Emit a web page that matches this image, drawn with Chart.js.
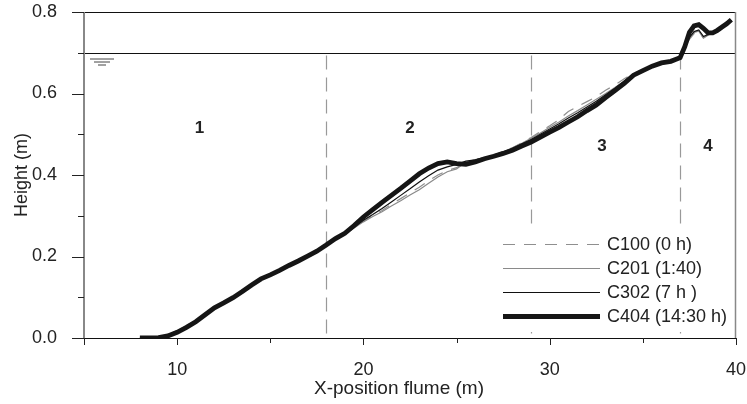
<!DOCTYPE html>
<html>
<head>
<meta charset="utf-8">
<script src="https://cdn.jsdelivr.net/npm/chart.js@4/dist/chart.umd.min.js"></script>
<style>
  html, body { margin: 0; padding: 0; background: #fff; }
  #wrap { width: 747px; height: 404px; }
</style>
</head>
<body>
<div id="wrap"><canvas id="c" width="747" height="404"></canvas></div>
<script>
// ---- data ----
const X_POS = [8,8.5,9,9.5,10,10.5,11,11.5,12,12.5,13,13.5,14,14.5,15,15.5,16,16.5,17,17.5,
  18,18.5,19,19.5,20,20.5,21,21.5,22,22.5,23,23.5,24,24.5,25,25.5,26,26.5,27,27.5,
  28,28.5,29,29.5,30,30.5,31,31.5,32,32.5,33,33.5,34,34.5,35,35.5,36,36.5,37,
  37.25,37.5,37.75,38,38.25,38.5,38.75,39,39.25,39.5,39.75];

const C100 = [0,0,0.002,0.007,0.017,0.029,0.043,0.058,0.075,0.087,
  0.100,0.115,0.131,0.145,0.156,0.167,0.179,0.190,0.202,0.214,
  0.228,0.243,0.256,0.271,0.287,0.300,0.313,0.328,0.342,0.356,
  0.370,0.386,0.400,0.411,0.418,0.431,0.437,0.443,0.449,0.457,
  0.467,0.479,0.492,0.507,0.521,0.536,0.556,0.568,0.580,0.592,
  0.608,0.621,0.636,0.649,0.659,0.668,0.676,0.681,0.691,
  0.713,0.733,0.747,0.750,0.737,0.744,0.750,0.756,0.764,0.771,0.780];

const C201 = [0,0,0.002,0.008,0.018,0.030,0.043,0.058,0.075,0.087,
  0.101,0.115,0.132,0.146,0.157,0.168,0.180,0.191,0.203,0.215,
  0.229,0.242,0.255,0.270,0.285,0.298,0.310,0.324,0.337,0.351,
  0.364,0.380,0.395,0.408,0.415,0.432,0.438,0.443,0.449,0.457,
  0.467,0.478,0.490,0.503,0.517,0.530,0.545,0.558,0.572,0.586,
  0.600,0.615,0.631,0.647,0.658,0.668,0.676,0.681,0.692,
  0.714,0.735,0.750,0.753,0.736,0.743,0.750,0.756,0.764,0.771,0.780];

const C302 = [0,0,0.002,0.007,0.016,0.028,0.042,0.058,0.073,0.088,
  0.100,0.115,0.131,0.144,0.156,0.167,0.179,0.190,0.202,0.214,
  0.229,0.243,0.256,0.272,0.289,0.303,0.318,0.334,0.350,0.366,
  0.383,0.398,0.412,0.420,0.426,0.434,0.437,0.442,0.448,0.456,
  0.465,0.476,0.487,0.500,0.513,0.526,0.540,0.553,0.567,0.581,
  0.597,0.613,0.630,0.647,0.658,0.668,0.676,0.681,0.690,
  0.712,0.738,0.752,0.756,0.740,0.745,0.750,0.756,0.764,0.771,0.780];

const C404 = [0,0,0.001,0.005,0.014,0.026,0.040,0.057,0.074,0.086,
  0.099,0.114,0.130,0.145,0.155,0.166,0.178,0.189,0.201,0.213,
  0.228,0.244,0.257,0.276,0.297,0.315,0.333,0.350,0.367,0.385,
  0.403,0.417,0.428,0.432,0.428,0.426,0.432,0.440,0.446,0.453,
  0.461,0.471,0.481,0.493,0.505,0.517,0.530,0.543,0.558,0.572,
  0.590,0.607,0.625,0.645,0.656,0.667,0.675,0.679,0.688,
  0.715,0.750,0.766,0.769,0.760,0.749,0.749,0.755,0.763,0.771,0.781];

const SERIES_LABELS = ['C100 (0 h)', 'C201 (1:40)', 'C302 (7 h )', 'C404 (14:30 h)'];
const X_TICKS = [10, 20, 30, 40];
const X_MINOR = [15, 25, 35];
const Y_TICKS = [0, 0.2, 0.4, 0.6, 0.8];
const Y_MINOR = [0.1, 0.3, 0.5, 0.7];
const WATER_LEVEL = 0.7;
const SECTION_BOUNDS = [18, 29, 37];
const SECTION_LABELS = ['1', '2', '3', '4'];
const SECTION_LABEL_POS = [[11.2, 0.515], [22.5, 0.515], [32.8, 0.47], [38.5, 0.47]];
const X_TITLE = 'X-position flume (m)';
const Y_TITLE = 'Height (m)';

// ---- styles ----
const FONT = 'Liberation Sans, Arial, Helvetica, sans-serif';
const STYLES = [
  { color: '#8f8f8f', width: 1.2, dash: [12, 9] },
  { color: '#8a8a8a', width: 1.2, dash: [] },
  { color: '#111111', width: 1.2, dash: [] },
  { color: '#151515', width: 4.8, dash: [] }
];
const SERIES = [C100, C201, C302, C404];

const datasets = SERIES.map((vals, i) => ({
  label: SERIES_LABELS[i],
  data: X_POS.map((x, j) => ({ x: x, y: vals[j] })),
  borderColor: STYLES[i].color,
  borderWidth: STYLES[i].width,
  borderDash: STYLES[i].dash,
  pointRadius: 0,
  tension: 0,
  fill: false,
  order: i === 3 ? 0 : 4 - i
}));

const decor = {
  id: 'decor',
  beforeDatasetsDraw(chart) {
    const { ctx, chartArea: a, scales: { x, y } } = chart;
    ctx.save();
    // water level line
    const wy = Math.round(y.getPixelForValue(WATER_LEVEL)) + 0.5;
    ctx.strokeStyle = '#111';
    ctx.lineWidth = 1;
    ctx.beginPath(); ctx.moveTo(a.left, wy); ctx.lineTo(a.right, wy); ctx.stroke();
    // water level symbol
    ctx.strokeStyle = '#444';
    ctx.lineWidth = 1;
    const sx = a.left + 18;
    [[-12, 12, 5.5], [-8, 8, 8.5], [-4, 4, 11.5]].forEach(([l, r, dy]) => {
      ctx.beginPath(); ctx.moveTo(sx + l, wy + dy); ctx.lineTo(sx + r, wy + dy); ctx.stroke();
    });
    // section boundaries
    ctx.strokeStyle = '#999';
    ctx.lineWidth = 1.2;
    ctx.setLineDash([14, 8]);
    SECTION_BOUNDS.forEach(v => {
      const px = Math.round(x.getPixelForValue(v)) + 0.5;
      ctx.beginPath(); ctx.moveTo(px, wy + 2); ctx.lineTo(px, a.bottom); ctx.stroke();
    });
    ctx.setLineDash([]);
    // section labels
    ctx.fillStyle = '#222';
    ctx.font = 'bold 17px ' + FONT;
    ctx.textAlign = 'center';
    ctx.textBaseline = 'middle';
    SECTION_LABELS.forEach((t, i) => {
      const [vx, vy] = SECTION_LABEL_POS[i];
      ctx.fillText(t, x.getPixelForValue(vx), y.getPixelForValue(vy));
    });
    ctx.restore();
  },
  afterDatasetsDraw(chart) {
    const { ctx, chartArea: a, scales: { x, y } } = chart;
    ctx.save();
    // legend box
    const lx0 = 496, ly0 = 224, lx1 = a.right - 2, ly1 = 332;
    ctx.fillStyle = '#fff';
    ctx.fillRect(lx0, ly0, lx1 - lx0, ly1 - ly0);
    const rowY = [244, 268, 292, 316];
    ctx.font = '18px ' + FONT;
    ctx.textAlign = 'left';
    ctx.textBaseline = 'middle';
    SERIES_LABELS.forEach((t, i) => {
      ctx.strokeStyle = STYLES[i].color;
      ctx.lineWidth = STYLES[i].width;
      ctx.setLineDash(STYLES[i].dash);
      ctx.beginPath(); ctx.moveTo(503, rowY[i] + 0.5); ctx.lineTo(600, rowY[i] + 0.5); ctx.stroke();
      ctx.setLineDash([]);
      ctx.fillStyle = '#222';
      ctx.fillText(t, 607, rowY[i] + 1);
    });
    // frame
    ctx.lineWidth = 1;
    ctx.strokeStyle = '#111';
    ctx.beginPath(); ctx.moveTo(a.left, a.top + 0.5); ctx.lineTo(a.right, a.top + 0.5); ctx.stroke();
    ctx.beginPath(); ctx.moveTo(a.left - 12, a.bottom + 0.5); ctx.lineTo(a.right, a.bottom + 0.5); ctx.stroke();
    ctx.strokeStyle = '#888';
    ctx.lineWidth = 1.5;
    ctx.beginPath(); ctx.moveTo(a.right - 0.5, a.top); ctx.lineTo(a.right - 0.5, a.bottom); ctx.stroke();
    ctx.lineWidth = 2;
    ctx.beginPath(); ctx.moveTo(a.left, a.top); ctx.lineTo(a.left, a.bottom); ctx.stroke();
    // y ticks
    ctx.strokeStyle = '#222';
    ctx.lineWidth = 1;
    Y_TICKS.forEach(v => {
      const py = Math.round(y.getPixelForValue(v)) + 0.5;
      ctx.beginPath(); ctx.moveTo(a.left - 12, py); ctx.lineTo(a.left, py); ctx.stroke();
    });
    Y_MINOR.forEach(v => {
      const py = Math.round(y.getPixelForValue(v)) + 0.5;
      ctx.beginPath(); ctx.moveTo(a.left - 6, py); ctx.lineTo(a.left, py); ctx.stroke();
    });
    // x ticks
    X_TICKS.forEach(v => {
      const px = Math.round(x.getPixelForValue(v)) + 0.5;
      ctx.beginPath(); ctx.moveTo(px, a.bottom); ctx.lineTo(px, a.bottom + 7); ctx.stroke();
    });
    X_MINOR.forEach(v => {
      const px = Math.round(x.getPixelForValue(v)) + 0.5;
      ctx.beginPath(); ctx.moveTo(px, a.bottom); ctx.lineTo(px, a.bottom + 5); ctx.stroke();
    });
    ctx.beginPath(); ctx.moveTo(a.left + 0.5, a.bottom); ctx.lineTo(a.left + 0.5, a.bottom + 7); ctx.stroke();
    // x title
    ctx.fillStyle = '#222';
    ctx.font = '19px ' + FONT;
    ctx.textAlign = 'center';
    ctx.textBaseline = 'middle';
    ctx.fillText(X_TITLE, 399, 389);
    ctx.restore();
  }
};

new Chart(document.getElementById('c'), {
  type: 'line',
  data: { datasets: datasets },
  options: {
    responsive: false,
    animation: false,
    layout: { padding: { top: 12, right: 11, left: 0, bottom: 0 } },
    plugins: { legend: { display: false }, tooltip: { enabled: false } },
    scales: {
      x: {
        type: 'linear', min: 5, max: 40,
        afterBuildTicks: s => { s.ticks = X_TICKS.map(v => ({ value: v })); },
        afterFit: s => { s.height = 66; s.paddingLeft = 0; s.paddingRight = 0; },
        grid: { display: false },
        border: { display: false },
        ticks: { color: '#222', font: { family: FONT, size: 18 }, padding: 13, maxRotation: 0 }
      },
      y: {
        type: 'linear', min: 0, max: 0.8,
        afterBuildTicks: s => { s.ticks = Y_TICKS.map(v => ({ value: v })); },
        afterFit: s => { s.width = 84; s.paddingTop = 0; s.paddingBottom = 0; },
        grid: { display: false },
        border: { display: false },
        ticks: { color: '#222', font: { family: FONT, size: 18 }, padding: 19, callback: v => Number(v).toFixed(1) },
        title: { display: true, text: Y_TITLE, color: '#222', font: { family: FONT, size: 18 }, padding: { top: 11, bottom: 0 } }
      }
    }
  },
  plugins: [decor]
});
</script>
</body>
</html>
